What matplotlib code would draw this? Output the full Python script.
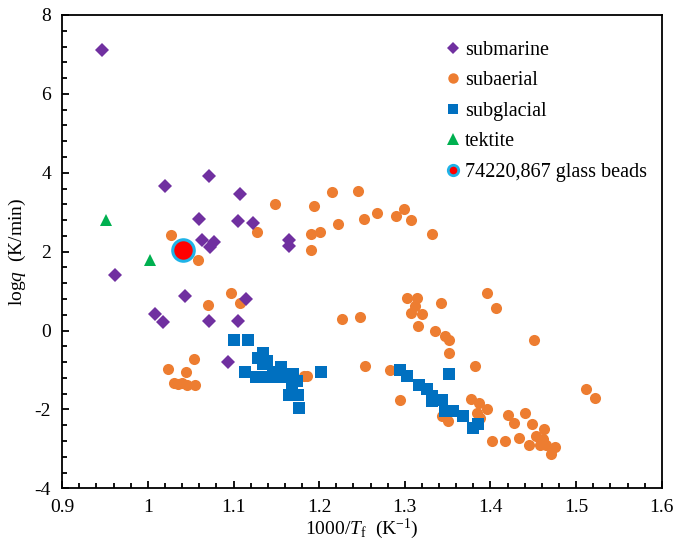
import matplotlib
matplotlib.use("Agg")
import matplotlib.pyplot as plt
from matplotlib.lines import Line2D
from matplotlib.ticker import MultipleLocator

plt.rcParams['font.family'] = ['Liberation Serif', 'DejaVu Serif']
plt.rcParams['mathtext.fontset'] = 'custom'
plt.rcParams['mathtext.rm'] = 'Liberation Serif'
plt.rcParams['mathtext.it'] = 'Liberation Serif:italic'

submarine_x = [0.947, 1.020, 1.071, 1.108, 1.060, 1.105, 1.123, 1.063, 1.077, 1.073,
               1.165, 1.165, 0.962, 1.043, 1.008, 1.018, 1.071, 1.105, 1.115, 1.093]
submarine_y = [7.11, 3.67, 3.92, 3.47, 2.84, 2.78, 2.72, 2.30, 2.25, 2.11,
               2.29, 2.15, 1.40, 0.87, 0.42, 0.21, 0.25, 0.25, 0.80, -0.79]

subaerial_x = [1.027, 1.148, 1.128, 1.058, 1.191, 1.097, 1.070, 1.107, 1.227, 1.248,
               1.054, 1.023, 1.044, 1.030, 1.040, 1.046, 1.055, 1.035, 1.186, 1.182,
               1.194, 1.215, 1.245, 1.190, 1.201, 1.222, 1.252, 1.267, 1.290, 1.299,
               1.307, 1.332,
               1.303, 1.314, 1.312, 1.307, 1.320, 1.342, 1.396, 1.407, 1.315, 1.335,
               1.347, 1.351, 1.351, 1.451,
               1.254, 1.283, 1.382, 1.294, 1.377, 1.387, 1.396, 1.384, 1.388, 1.343,
               1.350,
               1.402, 1.417, 1.420, 1.427, 1.440, 1.433, 1.448, 1.462, 1.445, 1.453,
               1.461, 1.465, 1.475, 1.471, 1.458, 1.511, 1.522]
subaerial_y = [2.42, 3.22, 2.51, 1.78, 2.05, 0.94, 0.64, 0.71, 0.28, 0.34,
               -0.71, -0.97, -1.06, -1.32, -1.32, -1.39, -1.37, -1.36, -1.14, -1.15,
               3.16, 3.50, 3.55, 2.45, 2.51, 2.71, 2.84, 2.97, 2.91, 3.08,
               2.79, 2.45,
               0.83, 0.83, 0.62, 0.45, 0.42, 0.71, 0.94, 0.56, 0.11, -0.01,
               -0.13, -0.23, -0.57, -0.24,
               -0.89, -0.99, -0.89, -1.75, -1.73, -1.83, -2.00, -2.08, -2.21, -2.17,
               -2.30,
               -2.80, -2.80, -2.15, -2.34, -2.10, -2.72, -2.38, -2.49, -2.89, -2.68,
               -2.76, -2.89, -2.95, -3.14, -2.89, -1.49, -1.72]

subglacial_x = [1.100, 1.117, 1.135, 1.129, 1.139, 1.135, 1.113, 1.126, 1.139, 1.146,
                1.155, 1.153, 1.162, 1.169, 1.174, 1.168, 1.165, 1.175, 1.177, 1.202,
                1.294, 1.302, 1.352, 1.317, 1.326, 1.332, 1.343, 1.332, 1.347, 1.356,
                1.368, 1.385, 1.380]
subglacial_y = [-0.25, -0.25, -0.56, -0.69, -0.76, -0.86, -1.06, -1.17, -1.17, -1.06,
                -0.92, -1.17, -1.17, -1.11, -1.27, -1.41, -1.64, -1.64, -1.97, -1.06,
                -0.99, -1.16, -1.11, -1.38, -1.47, -1.66, -1.75, -1.79, -2.04, -2.04,
                -2.17, -2.38, -2.48]

tektite_x = [0.951, 1.002]
tektite_y = [2.79, 1.80]

beads_x = [1.041]
beads_y = [2.05]

labels = ['submarine', 'subaerial', 'subglacial', 'tektite', '74220,867 glass beads']
xtick_vals = [0.9, 1.0, 1.1, 1.2, 1.3, 1.4, 1.5, 1.6]
xtick_labels = ['0.9', '1', '1.1', '1.2', '1.3', '1.4', '1.5', '1.6']
ytick_vals = [-4, -2, 0, 2, 4, 6, 8]
ytick_labels = ['-4', '-2', '0', '2', '4', '6', '8']

c_sub = '#7030A0'
c_aer = '#ED7D31'
c_gla = '#0070C0'
c_tek = '#00B050'

fig = plt.figure(figsize=(6.76, 5.45), dpi=100)
ax = fig.add_axes([0.092, 0.104, 0.887, 0.8685])

ax.plot(subaerial_x, subaerial_y, 'o', color=c_aer, ms=8.0, mew=0, zorder=3)
ax.plot(subglacial_x, subglacial_y, 's', color=c_gla, ms=8.0, mew=0, zorder=4)
ax.plot(submarine_x, submarine_y, 'D', color=c_sub, ms=7.2, mew=0, zorder=5)
ax.plot(tektite_x, tektite_y, '^', color=c_tek, ms=9.0, mew=0, zorder=5)
ax.plot(beads_x, beads_y, 'o', color='red', ms=15.5, mec='#1FB3E8', mew=2.2, zorder=6)

ax.set_xlim(0.9, 1.6)
ax.set_ylim(-4, 8)
ax.xaxis.set_minor_locator(MultipleLocator(0.02))
ax.yaxis.set_minor_locator(MultipleLocator(0.4))
ax.set_xticks(xtick_vals)
ax.set_xticklabels(xtick_labels)
ax.set_yticks(ytick_vals)
ax.set_yticklabels(ytick_labels)

ax.tick_params(which='both', direction='in', top=False, right=False, width=1.3,
               labelsize=14, colors='black')
ax.tick_params(which='major', length=5, pad=8)
ax.tick_params(which='minor', length=3.5)
for s in ax.spines.values():
    s.set_linewidth(1.3)

ax.set_xlabel(r'1000/$\mathit{T}_{\mathrm{f}}$  (K$^{\mathrm{-1}}$)', fontsize=14, labelpad=0)
ax.set_ylabel(r'log$\mathit{q}$  (K/min)', fontsize=14, labelpad=5)

handles = [
    Line2D([], [], ls='none', marker='D', color=c_sub, ms=6.5, mew=0),
    Line2D([], [], ls='none', marker='o', color=c_aer, ms=7.5, mew=0),
    Line2D([], [], ls='none', marker='s', color=c_gla, ms=7, mew=0),
    Line2D([], [], ls='none', marker='^', color=c_tek, ms=8.5, mew=0),
    Line2D([], [], ls='none', marker='o', color='red', ms=7.5, mec='#1FB3E8', mew=2.0),
]
ax.legend(handles, labels, loc='upper left', bbox_to_anchor=(0.638, 0.945),
          frameon=False, fontsize=14.5, handlelength=0.8, handletextpad=0.2,
          labelspacing=0.56, borderaxespad=0, borderpad=0)

fig.savefig('out.png', dpi=100)
